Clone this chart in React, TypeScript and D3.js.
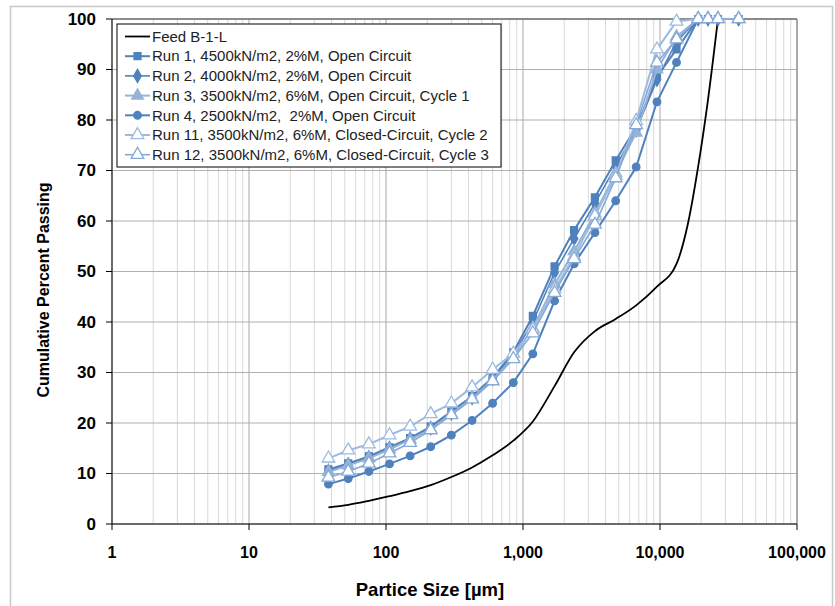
import React from "react";
import * as d3 from "d3";

const sizes = [38, 53, 75, 106, 150, 212, 300, 425, 600, 850, 1180, 1700, 2360, 3350, 4750, 6700, 9500, 13200, 19000, 22400, 26500, 37500];
const feedSizes = [38, 53, 75, 106, 150, 212, 300, 425, 600, 850, 1180, 1700, 2360, 3350, 4750, 6700, 9500, 13200, 16000, 19000, 22400, 26500];
const feedValues = [3.3, 3.8, 4.6, 5.5, 6.5, 7.7, 9.3, 11.2, 13.6, 16.5, 20.3, 27.3, 34.0, 38.2, 40.6, 43.3, 47.0, 51.5, 59.5, 70.8, 84.0, 100];

const run1 = [10.8, 12.0, 13.4, 15.2, 17.0, 19.3, 22.3, 25.3, 29.0, 34.0, 41.2, 51.0, 58.2, 64.7, 72.0, 78.6, 88.6, 94.0, 100, 100, 100, 100];
const run2 = [10.5, 11.8, 13.2, 15.0, 16.9, 19.0, 21.9, 25.0, 28.8, 33.5, 40.0, 49.8, 56.5, 63.5, 70.8, 78.0, 88.0, 95.5, 100, 100, 100, 100];
const run3 = [10.3, 11.6, 13.0, 14.8, 16.7, 18.8, 21.8, 24.9, 28.5, 33.0, 38.8, 47.5, 54.0, 61.5, 69.5, 77.5, 90.0, 96.5, 100, 100, 100, 100];
const run4 = [7.9, 9.0, 10.4, 11.9, 13.5, 15.3, 17.6, 20.5, 23.9, 28.0, 33.7, 44.2, 51.5, 57.7, 64.0, 70.7, 83.6, 91.4, 100, 100, 100, 100];
const run11 = [13.0, 14.6, 15.8, 17.6, 19.3, 21.8, 23.9, 27.1, 30.6, 33.8, 38.5, 46.5, 53.0, 61.0, 69.0, 79.8, 94.0, 99.5, 100, 100, 100, 100];
const run12 = [9.2, 10.4, 12.0, 14.0, 16.1, 18.6, 21.6, 24.7, 28.3, 32.7, 37.8, 45.8, 52.5, 59.3, 68.5, 79.0, 91.4, 96.0, 100, 100, 100, 100];

const seriesNames = [
  "Feed B-1-L",
  "Run 1, 4500kN/m2, 2%M, Open Circuit",
  "Run 2, 4000kN/m2, 2%M, Open Circuit",
  "Run 3, 3500kN/m2, 6%M, Open Circuit, Cycle 1",
  "Run 4, 2500kN/m2,  2%M, Open Circuit",
  "Run 11, 3500kN/m2, 6%M, Closed-Circuit, Cycle 2",
  "Run 12, 3500kN/m2, 6%M, Closed-Circuit, Cycle 3",
];

const yTicks = [0, 10, 20, 30, 40, 50, 60, 70, 80, 90, 100];
const xTicks = [1, 10, 100, 1000, 10000, 100000];

type Run = { name: string; values: number[]; color: string; symbol: d3.SymbolType; size: number; fill: string; width: number };

const runs: Run[] = [
  { name: seriesNames[1], values: run1, color: "#4F81BD", symbol: d3.symbolSquare, size: 48, fill: "#4F81BD", width: 2 },
  { name: seriesNames[2], values: run2, color: "#4F81BD", symbol: d3.symbolDiamond, size: 50, fill: "#4F81BD", width: 1.6 },
  { name: seriesNames[3], values: run3, color: "#95B3D7", symbol: d3.symbolTriangle, size: 60, fill: "#95B3D7", width: 2 },
  { name: seriesNames[4], values: run4, color: "#4F81BD", symbol: d3.symbolCircle, size: 45, fill: "#4F81BD", width: 2 },
  { name: seriesNames[5], values: run11, color: "#9DBBE0", symbol: d3.symbolTriangle, size: 70, fill: "#FFFFFF", width: 2 },
  { name: seriesNames[6], values: run12, color: "#86A9D6", symbol: d3.symbolTriangle, size: 70, fill: "#FFFFFF", width: 1.6 },
];

export default function App() {
  const W = 835, H = 606;
  const x = d3.scaleLog().domain([1, 100000]).range([112, 797]);
  const y = d3.scaleLinear().domain([0, 100]).range([524, 19]);

  const minor: number[] = [];
  for (let d = 1; d < 100000; d *= 10) for (let k = 2; k <= 9; k++) minor.push(d * k);

  const runLine = d3.line<[number, number]>().x((d) => x(d[0])).y((d) => y(d[1]));
  const feedLine = d3
    .line<[number, number]>()
    .x((d) => x(d[0]))
    .y((d) => y(d[1]))
    .curve(d3.curveMonotoneX);

  const feedPts: [number, number][] = feedSizes.map((s, i) => [s, feedValues[i]]);
  const fmt = d3.format(",");
  const font = "'Liberation Sans', Arial, sans-serif";

  const legX = 117, legY = 24, legW = 384, legH = 143;
  const rowY = (i: number) => 36.5 + i * 19.7;

  return (
    <svg width={W} height={H} style={{ position: "absolute", left: 0, top: 0, background: "#fff" }} fontFamily={font}>
      <rect x={0} y={0} width={W} height={H} fill="#fff" />
      <rect x={10.5} y={6.5} width={822} height={620} fill="none" stroke="#c8c8c8" strokeWidth={1.5} />
      {/* grid */}
      {minor.map((v) => (
        <line key={"m" + v} x1={x(v)} x2={x(v)} y1={y(0)} y2={y(100)} stroke="#d9d9d9" strokeWidth={1} />
      ))}
      {xTicks.map((v) => (
        <line key={"M" + v} x1={x(v)} x2={x(v)} y1={y(0)} y2={y(100)} stroke="#b8b8b8" strokeWidth={1.2} />
      ))}
      {yTicks.map((v) => (
        <line key={"h" + v} x1={x(1)} x2={x(100000)} y1={y(v)} y2={y(v)} stroke="#b0b0b0" strokeWidth={1.2} />
      ))}
      <line x1={x(1)} x2={x(100000)} y1={y(100)} y2={y(100)} stroke="#404040" strokeWidth={1} />
      <line x1={x(100000)} x2={x(100000)} y1={y(100)} y2={y(0)} stroke="#808080" strokeWidth={1} />
      {/* axes */}
      <line x1={x(1)} x2={x(1)} y1={y(0)} y2={y(100)} stroke="#000" strokeWidth={1} />
      <line x1={x(1)} x2={x(100000)} y1={y(0)} y2={y(0)} stroke="#000" strokeWidth={1} />
      {yTicks.map((v) => (
        <g key={"yt" + v}>
          <line x1={x(1) - 6} x2={x(1)} y1={y(v)} y2={y(v)} stroke="#000" />
          <text x={96} y={y(v)} dy="0.35em" textAnchor="end" fontSize={17} fontWeight="bold" fill="#000">
            {v}
          </text>
        </g>
      ))}
      {xTicks.map((v) => (
        <g key={"xt" + v}>
          <line x1={x(v)} x2={x(v)} y1={y(0)} y2={y(0) + 6} stroke="#000" />
          <text x={x(v)} y={558} textAnchor="middle" fontSize={16} fontWeight="bold" fill="#000">
            {fmt(v)}
          </text>
        </g>
      ))}
      <text x={430} y={596} textAnchor="middle" fontSize={18.5} fontWeight="bold" fill="#000">
        Partice Size [µm]
      </text>
      <text transform="translate(49,290) rotate(-90)" textAnchor="middle" fontSize={16} fontWeight="bold" fill="#000">
        Cumulative Percent Passing
      </text>
      {/* data */}
      <path d={feedLine(feedPts) || ""} fill="none" stroke="#000" strokeWidth={1.8} />
      {runs.map((r, ri) => {
        const pts: [number, number][] = sizes.map((s, i) => [s, r.values[i]]);
        const sym = d3.symbol().type(r.symbol).size(r.size)();
        return (
          <g key={"r" + ri}>
            <path d={runLine(pts) || ""} fill="none" stroke={r.color} strokeWidth={r.width} />
            {pts.map((p, i) => (
              <path
                key={i}
                d={sym || ""}
                transform={`translate(${x(p[0])},${y(p[1])})`}
                fill={r.fill}
                stroke={r.color}
                strokeWidth={1.3}
              />
            ))}
          </g>
        );
      })}
      {/* legend */}
      <rect x={legX} y={legY} width={legW} height={legH} fill="#fff" stroke="#000" strokeWidth={1} />
      <g>
        <line x1={125} x2={150} y1={rowY(0)} y2={rowY(0)} stroke="#000" strokeWidth={1.8} />
        <text x={152} y={rowY(0)} dy="0.35em" fontSize={15} fill="#222">
          {seriesNames[0]}
        </text>
      </g>
      {runs.map((r, i) => {
        const sym = d3.symbol().type(r.symbol).size(r.size)();
        const yy = rowY(i + 1);
        return (
          <g key={"l" + i}>
            <line x1={125} x2={150} y1={yy} y2={yy} stroke={r.color} strokeWidth={r.width} />
            <path d={sym || ""} transform={`translate(137.5,${yy})`} fill={r.fill} stroke={r.color} strokeWidth={1.3} />
            <text x={152} y={yy} dy="0.35em" fontSize={15} fill="#222" style={{ whiteSpace: "pre" }}>
              {r.name}
            </text>
          </g>
        );
      })}
    </svg>
  );
}
